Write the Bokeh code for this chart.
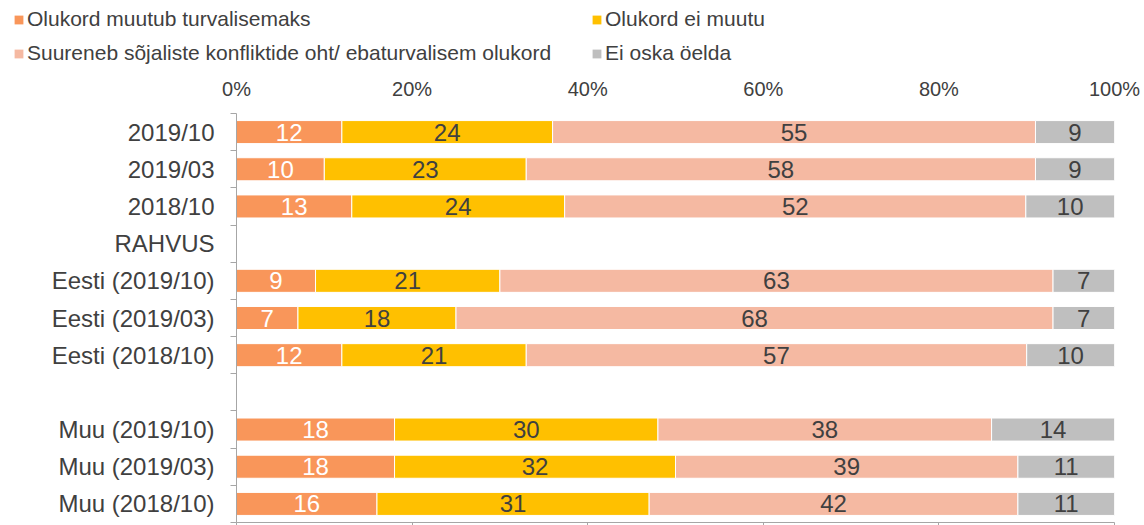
from bokeh.plotting import figure
from bokeh.layouts import column, row
from bokeh.models import (Range1d, FixedTicker, LinearAxis, Legend, LegendItem,
                          ColumnDataSource, PrintfTickFormatter)
from bokeh.core.properties import value
from bokeh.embed import file_html
from bokeh.resources import INLINE

categories = ["2019/10", "2019/03", "2018/10", "RAHVUS",
              "Eesti (2019/10)", "Eesti (2019/03)", "Eesti (2018/10)", "",
              "Muu (2019/10)", "Muu (2019/03)", "Muu (2018/10)"]
series_names = ["Olukord muutub turvalisemaks", "Olukord ei muutu",
                "Suureneb sõjaliste konfliktide oht/ ebaturvalisem olukord", "Ei oska öelda"]
s_better = [12, 10, 13, None, 9, 7, 12, None, 18, 18, 16]
s_same = [24, 23, 24, None, 21, 18, 21, None, 30, 32, 31]
s_worse = [55, 58, 52, None, 63, 68, 57, None, 38, 39, 42]
s_dk = [9, 9, 10, None, 7, 7, 10, None, 14, 11, 11]
x_ticks = [0, 20, 40, 60, 80, 100]

colors = ["#F9965A", "#FFC000", "#F5B9A2", "#BFBFBF"]
label_colors = ["white", "#404040", "#404040", "#404040"]
FONT = "Liberation Sans"
TXT = "#404040"

LEG_H = 70
p = figure(width=1144, height=525 - LEG_H, output_backend="svg", toolbar_location=None,
           x_range=Range1d(0, 100), y_range=Range1d(10.5, -0.5),
           x_axis_location="above", min_border_left=236, min_border_right=30,
           min_border_top=113 - LEG_H, min_border_bottom=3)
p.outline_line_color = None
p.xgrid.visible = False
p.ygrid.visible = False

# top axis (labels only)
xa = p.xaxis[0]
xa.ticker = FixedTicker(ticks=x_ticks, minor_ticks=[])
xa.formatter = PrintfTickFormatter(format="%d%%")
xa.axis_line_color = None
xa.major_tick_line_color = None
xa.major_tick_out = 0
xa.major_tick_in = 0
xa.minor_tick_out = 0
xa.major_label_standoff = 14
xa.major_label_text_font = FONT
xa.major_label_text_font_size = "20px"
xa.major_label_text_color = TXT

# bottom axis (ticks only)
xb = LinearAxis(ticker=FixedTicker(ticks=x_ticks, minor_ticks=[]))
xb.axis_line_color = "#A6A6A6"
xb.major_tick_line_color = "#A6A6A6"
xb.major_tick_out = 3
xb.major_tick_in = 0
xb.minor_tick_out = 0
xb.major_label_standoff = 0
xb.major_label_overrides = {t: "" for t in x_ticks}
p.add_layout(xb, "below")

# left axis
ya = p.yaxis[0]
rows = list(range(len(categories)))
ya.ticker = FixedTicker(ticks=rows, minor_ticks=[r - 0.5 for r in rows] + [len(rows) - 0.5])
ya.major_label_overrides = {i: c for i, c in enumerate(categories)}
ya.axis_line_color = "#A6A6A6"
ya.major_tick_out = 0
ya.major_tick_in = 0
ya.minor_tick_line_color = "#A6A6A6"
ya.minor_tick_out = 6
ya.minor_tick_in = 0
ya.major_label_standoff = 16
ya.major_label_text_font = FONT
ya.major_label_text_font_size = "24px"
ya.major_label_text_color = TXT

series = [s_better, s_same, s_worse, s_dk]
for k, s in enumerate(series):
    ys, lefts, rights, mids, labs = [], [], [], [], []
    for i in rows:
        vals = [ser[i] for ser in series]
        if vals[0] is None:
            continue
        tot = sum(vals)
        left = sum(vals[:k]) / tot * 100
        right = sum(vals[:k + 1]) / tot * 100
        ys.append(i); lefts.append(left); rights.append(right)
        mids.append((left + right) / 2); labs.append(str(vals[k]))
    src = ColumnDataSource(dict(y=ys, left=lefts, right=rights, mid=mids, lab=labs))
    p.hbar(y="y", left="left", right="right", height=0.62, source=src,
           fill_color=colors[k], line_color="white", line_width=1)
    p.text(x="mid", y="y", text="lab", source=src, text_font=value(FONT),
           text_font_size="24px", text_color=label_colors[k],
           text_align="center", text_baseline="middle")

# legend figure on top (its glyphs sit outside its visible range)
lf = figure(width=1144, height=LEG_H, output_backend="svg", toolbar_location=None,
            x_range=Range1d(0, 1), y_range=Range1d(0, 1), min_border=0)
lf.axis.visible = False
lf.grid.visible = False
lf.outline_line_color = None
leg_r = []
for k in range(4):
    leg_r.append(lf.hbar(y=[-5], left=[0], right=[1], height=1, fill_color=colors[k],
                         line_color=None))
items = [LegendItem(label=series_names[k], renderers=[leg_r[k]]) for k in range(4)]
legend = Legend(items=items, location=(13, 5), orientation="horizontal", ncols=2,
                padding=0, margin=0, spacing=10, label_standoff=3,
                glyph_width=11, glyph_height=11, label_height=24, label_width=554,
                label_text_font=FONT, label_text_font_size="21px", label_text_color=TXT,
                border_line_color=None, background_fill_alpha=0)
lf.add_layout(legend, "center")

open("out.html", "w").write(file_html(column(row(lf), p), INLINE))
